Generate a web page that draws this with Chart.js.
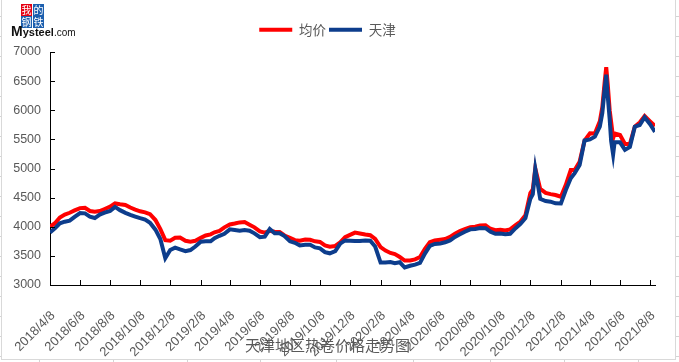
<!DOCTYPE html>
<html><head><meta charset="utf-8">
<script src="https://cdn.jsdelivr.net/npm/chart.js@4.4.1/dist/chart.umd.min.js"></script>
<style>
html,body{margin:0;padding:0;background:#fff;}
#wrap{position:relative;width:679px;height:362px;overflow:hidden;background:#fff;
  background-image:repeating-linear-gradient(to bottom, transparent 0, transparent 16px, #d4d4d4 16px, #d4d4d4 17px, transparent 17px, transparent 20px);}
.col{position:absolute;top:0;width:1px;height:362px;background:#d4d4d4;}
#frame{position:absolute;left:1px;top:-2px;width:673px;height:360px;border:1px solid #d9d9d9;background:#fff;}
canvas{display:block;position:absolute;left:0;top:0;}
#logo{position:absolute;left:21px;top:4px;width:24px;height:24px;}
#logo span{position:absolute;width:11px;height:12px;font:10px/12px "Noto Sans CJK SC";color:#fff;text-align:center;}
#brand{position:absolute;left:11px;top:24px;font:bold 11px/14px "Liberation Sans";color:#111;white-space:nowrap;}
#brand b{font-size:14px;}
#brand i{font-style:normal;font-weight:normal;font-size:10px;}
</style></head><body>
<div id="wrap">
<div class="col" style="left:39px"></div><div class="col" style="left:113px"></div><div class="col" style="left:187px"></div>
<div class="col" style="left:260px"></div><div class="col" style="left:336px"></div><div class="col" style="left:413px"></div>
<div class="col" style="left:490px"></div><div class="col" style="left:564px"></div><div class="col" style="left:638px"></div>
<div id="frame"></div>
<canvas id="c" width="679" height="362"></canvas>
<div id="logo">
 <span style="left:0;top:0;background:#e60012">我</span>
 <span style="left:12px;top:0;background:#1d5fae">的</span>
 <span style="left:0;top:12px;background:#1d5fae">钢</span>
 <span style="left:12px;top:12px;background:#1d5fae">铁</span>
</div>
<div id="brand"><b>M</b>ysteel<i>.com</i></div>
</div>
<script>
const seriesNames = ['均价', '天津'];
const tickLabels = ['2018/4/8','2018/6/8','2018/8/8','2018/10/8','2018/12/8','2019/2/8','2019/4/8','2019/6/8','2019/8/8','2019/10/8','2019/12/8','2020/2/8','2020/4/8','2020/6/8','2020/8/8','2020/10/8','2020/12/8','2021/2/8','2021/4/8','2021/6/8','2021/8/8'];
const axisEnd = '2021/8/18';
const yMin = 3000, yMax = 7000, yStep = 500;
const chartTitle = '天津地区热卷价格走势图';

const dates = [
 '2018/4/8','2018/4/18','2018/4/28','2018/5/8','2018/5/18','2018/5/28','2018/6/8','2018/6/18','2018/6/28',
 '2018/7/8','2018/7/18','2018/7/28','2018/8/8','2018/8/18','2018/8/28','2018/9/8','2018/9/18','2018/9/28',
 '2018/10/8','2018/10/18','2018/10/28','2018/11/8','2018/11/18','2018/11/28','2018/12/8','2018/12/18','2018/12/28',
 '2019/1/8','2019/1/18','2019/1/28','2019/2/8','2019/2/18','2019/2/28','2019/3/8','2019/3/18','2019/3/28',
 '2019/4/8','2019/4/18','2019/4/28','2019/5/8','2019/5/18','2019/5/28','2019/6/8','2019/6/18','2019/6/28',
 '2019/7/8','2019/7/18','2019/7/28','2019/8/8','2019/8/18','2019/8/28','2019/9/8','2019/9/18','2019/9/28',
 '2019/10/8','2019/10/18','2019/10/28','2019/11/8','2019/11/18','2019/11/28','2019/12/8','2019/12/18','2019/12/28',
 '2020/1/8','2020/1/18','2020/1/28','2020/2/8','2020/2/18','2020/2/28','2020/3/8','2020/3/18','2020/3/28',
 '2020/4/8','2020/4/18','2020/4/28','2020/5/8','2020/5/18','2020/5/28','2020/6/8','2020/6/18','2020/6/28',
 '2020/7/8','2020/7/18','2020/7/28','2020/8/8','2020/8/18','2020/8/28','2020/9/8','2020/9/18','2020/9/28',
 '2020/10/8','2020/10/18','2020/10/28','2020/11/8','2020/11/18','2020/11/28','2020/12/8','2020/12/13','2020/12/18','2020/12/28',
 '2021/1/8','2021/1/18','2021/1/28','2021/2/8','2021/2/18','2021/2/28','2021/3/8','2021/3/18','2021/3/28',
 '2021/4/8','2021/4/18','2021/4/28','2021/5/3','2021/5/8','2021/5/11','2021/5/14','2021/5/18','2021/5/21','2021/5/25','2021/5/28',
 '2021/6/8','2021/6/18','2021/6/28','2021/7/8','2021/7/18','2021/7/28','2021/8/8','2021/8/18'
];
const avgPrice = [
 4000,4060,4160,4210,4240,4280,4320,4325,4270,
 4259,4270,4305,4345,4400,4385,4374,4330,4295,
 4265,4248,4215,4115,3960,3770,3760,3810,3815,
 3760,3744,3760,3810,3850,3870,3905,3930,3990,
 4040,4055,4075,4080,4035,3990,3920,3900,3930,
 3915,3910,3850,3810,3770,3760,3780,3775,3750,
 3740,3680,3658,3670,3730,3820,3860,3900,3885,
 3868,3855,3790,3650,3590,3550,3530,3480,3420,
 3420,3440,3480,3620,3735,3765,3778,3790,3825,
 3880,3925,3960,3990,4000,4020,4025,3965,3940,
 3950,3935,3955,4030,4090,4200,4580,4640,5000,4650,
 4580,4560,4545,4516,4720,4974,4974,5117,5480,
 5604,5600,5810,6050,6500,6740,6450,6000,5800,5520,5600,
 5575,5420,5420,5720,5790,5900,5810,5730
];
const tianjin = [
 3900,3973,4059,4087,4105,4170,4236,4230,4175,
 4150,4210,4241,4270,4340,4285,4238,4205,4175,
 4147,4122,4070,3950,3790,3460,3600,3640,3610,
 3580,3600,3660,3744,3750,3750,3805,3845,3880,
 3955,3944,3933,3944,3933,3887,3820,3830,3960,
 3887,3887,3840,3750,3725,3680,3690,3690,3645,
 3630,3565,3544,3580,3710,3765,3760,3755,3755,
 3765,3760,3660,3385,3385,3395,3375,3390,3300,
 3330,3350,3380,3540,3670,3704,3712,3733,3765,
 3825,3870,3915,3956,3963,3980,3975,3915,3880,
 3885,3870,3880,3975,4050,4150,4480,4560,4990,4480,
 4442,4431,4402,4400,4630,4831,4920,5060,5480,
 5500,5547,5720,5950,6380,6610,6250,5850,5470,5240,5450,
 5450,5320,5370,5718,5747,5880,5760,5630
];

const base = Date.UTC(2018, 3, 8);
function toDay(s){ const p = s.split('/').map(Number); return (Date.UTC(p[0], p[1]-1, p[2]) - base) / 86400000; }
const xs = dates.map(toDay);
const tickDays = tickLabels.map(toDay);

const textGray = '#595959';

const innerTicks = {
  id:'innerTicks',
  afterDraw(chart){
    const {ctx, chartArea:a} = chart;
    const sx = chart.scales.x, sy = chart.scales.y;
    ctx.save(); ctx.strokeStyle = '#000'; ctx.lineWidth = 1; ctx.beginPath();
    sx.ticks.forEach(t=>{ const px = Math.round(sx.getPixelForValue(t.value)) + 0.5; ctx.moveTo(px, a.bottom); ctx.lineTo(px, a.bottom - 5); });
    sy.ticks.forEach(t=>{ const py = Math.round(sy.getPixelForValue(t.value)) + 0.5; ctx.moveTo(a.left, py); ctx.lineTo(a.left + 5, py); });
    ctx.stroke(); ctx.restore();
  }
};

new Chart(document.getElementById('c'), {
  type: 'line',
  data: {
    datasets: [
      {label: seriesNames[0], data: xs.map((x,i)=>({x, y: avgPrice[i]})), borderColor:'#ff0000', backgroundColor:'#ff0000', borderWidth:4, pointRadius:0, tension:0, order:1},
      {label: seriesNames[1], data: xs.map((x,i)=>({x, y: tianjin[i]})), borderColor:'#0d3d8c', backgroundColor:'#0d3d8c', borderWidth:4, pointRadius:0, tension:0, order:0}
    ]
  },
  plugins:[innerTicks],
  options: {
    responsive:false, animation:false, devicePixelRatio:1,
    layout:{padding:{left:0, right:24, top:20, bottom:0}},
    plugins:{
      legend:{position:'top', weight:3000, labels:{
        font:{family:'Noto Sans CJK SC', size:13.5}, color:textGray, boxWidth:33, boxHeight:4, padding:3,
        sort:(a,b)=>a.datasetIndex-b.datasetIndex,
        generateLabels(chart){
          const items = Chart.defaults.plugins.legend.labels.generateLabels(chart);
          items.forEach(it=>{ it.lineWidth = 0; it.fillStyle = it.strokeStyle; });
          return items;
        }}},
      subtitle:{display:true, text:'', position:'top', font:{size:5.5, lineHeight:1}, padding:0},
      title:{display:true, text:chartTitle, position:'bottom', color:textGray, font:{family:'Noto Sans CJK SC', size:15, weight:'normal', lineHeight:1.2}, padding:{top:-26, bottom:8}},
      tooltip:{enabled:false}
    },
    scales:{
      x:{type:'linear', min:0, max:toDay(axisEnd),
        afterBuildTicks(s){ s.ticks = tickDays.map(v=>({value:v})); },
        afterFit(s){ s.height = 77; s.paddingLeft = 0; s.paddingRight = 0; },
        ticks:{autoSkip:false, minRotation:45, maxRotation:45, color:textGray, font:{family:'Liberation Sans', size:13}, padding:23, labelOffset:3,
          callback:(v,i)=>tickLabels[i]},
        grid:{drawOnChartArea:false, drawTicks:false},
        border:{display:true, color:'#000', width:1}
      },
      y:{min:yMin, max:yMax,
        afterFit(s){ s.width = 50; },
        ticks:{stepSize:yStep, color:textGray, font:{family:'Liberation Sans', size:12.5}, padding:9, callback:v=>String(v)},
        grid:{drawOnChartArea:false, drawTicks:false},
        border:{display:true, color:'#000', width:1}
      }
    }
  }
});
</script>
</body></html>
